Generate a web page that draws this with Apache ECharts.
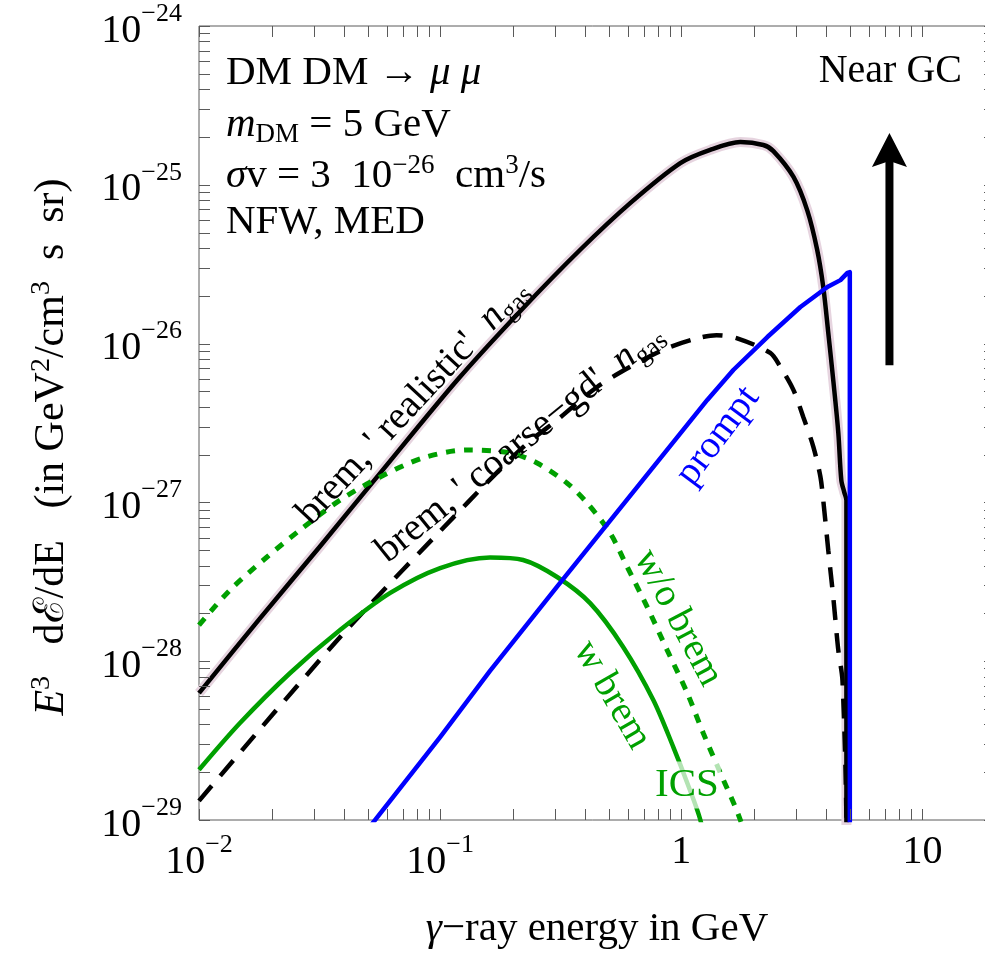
<!DOCTYPE html>
<html>
<head>
<meta charset="utf-8">
<script src="https://cdn.jsdelivr.net/npm/echarts@6/dist/echarts.min.js"></script>
<style>
  html, body { margin: 0; padding: 0; background: #fff; }
  #chart { width: 985px; height: 953px; }
</style>
</head>
<body>
<div id="chart"></div>
<script>
// Gamma-ray spectra from DM DM -> mu mu, m_DM = 5 GeV, near the Galactic Centre.
// Energies in GeV, fluxes as E^3 dE/dE in GeV^2/(cm^3 s sr).

const bremRealisticE = [0.01, 0.0179, 0.0318, 0.0564, 0.1178, 0.2148, 0.381, 0.614, 0.991, 1.318, 1.758, 2.19, 2.41, 2.92, 3.33, 3.66, 3.88, 4.07, 4.28, 4.48, 4.61, 4.74, 4.84, 4.84];
const bremRealisticV = [6.3e-29, 1.86e-28, 5.3e-28, 1.53e-27, 5.9e-27, 1.6e-26, 3.9e-26, 7.67e-26, 1.37e-25, 1.66e-25, 1.86e-25, 1.78e-25, 1.63e-25, 1.12e-25, 6.9e-26, 3.9e-26, 2.27e-26, 1.17e-26, 5.65e-27, 2.74e-27, 1.38e-27, 1.16e-27, 1.03e-27, 1e-31];

const bremCoarseE = [0.01, 0.0385, 0.1294, 0.2208, 0.3055, 0.4477, 0.656, 0.875, 1.164, 1.4, 1.706, 2.339, 2.576, 2.917, 3.206, 3.532, 3.776, 3.88, 4.07, 4.28, 4.48, 4.66, 4.84, 4.9];
const bremCoarseV = [1.32e-29, 1.42e-28, 9.9e-28, 2.23e-27, 3.3e-27, 5.33e-27, 7.55e-27, 9.37e-27, 1.08e-26, 1.13e-26, 1.08e-26, 8.73e-27, 7.13e-27, 5.11e-27, 3.45e-27, 2.23e-27, 1.45e-27, 1.03e-27, 5.0e-28, 2.43e-28, 1.17e-28, 7.6e-29, 1e-29, 1e-31];

const icsNoBremE = [0.01, 0.01346, 0.01914, 0.02624, 0.03846, 0.05636, 0.0849, 0.1294, 0.195, 0.2523, 0.3365, 0.4074, 0.507, 0.597, 0.7228, 0.875, 1.059, 1.233, 1.452, 1.758, 2.0];
const icsNoBremV = [1.69e-28, 2.81e-28, 4.53e-28, 6.7e-28, 1.035e-27, 1.445e-27, 1.905e-27, 2.14e-27, 2.05e-27, 1.77e-27, 1.32e-27, 9.9e-28, 6.41e-28, 3.92e-28, 2.19e-28, 1.17e-28, 6.3e-29, 3.53e-29, 1.98e-29, 1.0e-29, 5e-30];

const icsBremE = [0.01, 0.01479, 0.02388, 0.03846, 0.0621, 0.1, 0.161, 0.2208, 0.3055, 0.4188, 0.5741, 0.7656, 0.9268, 1.059, 1.2, 1.318];
const icsBremV = [2.07e-29, 4.08e-29, 8.43e-29, 1.57e-28, 2.69e-28, 3.86e-28, 4.5e-28, 4.34e-28, 3.39e-28, 2.32e-28, 1.23e-28, 5.7e-29, 2.88e-29, 1.71e-29, 1.0e-29, 5e-30];

const promptE = [0.05, 0.1, 0.161, 0.3055, 1.282, 1.644, 2.275, 3.119, 4.036, 4.571, 4.887, 5.0, 5.0];
const promptV = [8.7e-30, 3.33e-29, 8.7e-29, 2.95e-28, 4.42e-27, 6.82e-27, 1.1e-26, 1.7e-26, 2.27e-26, 2.51e-26, 2.79e-26, 2.82e-26, 1e-31];

// "Near GC" arrow: energy, lower and upper end
const arrowE = 7.3;
const arrowFrom = 7.3e-27;
const arrowTo = 2.12e-25;

const xRange = [0.01, 20];
const yRange = [1e-29, 1e-24];
const xTickValues = [0.01, 0.1, 1, 10];
const xTickLabels = [['10', '−2'], ['10', '−1'], ['1', ''], ['10', '']];
const yTickValues = [1e-29, 1e-28, 1e-27, 1e-26, 1e-25, 1e-24];
const yTickLabels = [['10', '−29'], ['10', '−28'], ['10', '−27'], ['10', '−26'], ['10', '−25'], ['10', '−24']];

const FONT = '"Liberation Serif", "Times New Roman", serif';
const AXIS_COLOR = '#5a5a5a';
const TICK_LEN = 11;
const GREEN = '#00a000';
const BLUE = '#0000ff';

// log-spaced tick marks (1..9 per decade) inside the range
function logTicks(lo, hi) {
  const out = [];
  for (let k = Math.floor(Math.log10(lo)); k <= Math.ceil(Math.log10(hi)); k++) {
    for (let m = 1; m <= 9; m++) {
      const v = m * Math.pow(10, k);
      if (v >= lo * 0.999999 && v <= hi * 1.000001) out.push(v);
    }
  }
  return out;
}

function pairs(xs, ys) { return xs.map((x, i) => [x, ys[i]]); }

function tickFormatter(values, labels) {
  return function (v) {
    for (let i = 0; i < values.length; i++) {
      if (Math.abs(Math.log10(v) - Math.log10(values[i])) < 1e-9) {
        const base = labels[i][0], exp = labels[i][1];
        return exp ? '{b|' + base + '}{s|' + exp + '}' : '{p|' + base + '}';
      }
    }
    return '';
  };
}

const tickRich = {
  b: { fontFamily: FONT, fontSize: 40, color: '#000', lineHeight: 40, verticalAlign: 'bottom', padding: [20, 0, 0, 0] },
  s: { fontFamily: FONT, fontSize: 26, color: '#000', lineHeight: 50, verticalAlign: 'top' },
  p: { fontFamily: FONT, fontSize: 40, color: '#000', lineHeight: 40 }
};

function font(size, italic) { return (italic ? 'italic ' : '') + size + 'px ' + FONT; }

function richSet(size, color) {
  return {
    r: { font: font(size), fill: color, lineHeight: size + 6 },
    i: { font: font(size, true), fill: color, lineHeight: size + 6 },
    sup: { font: font(Math.round(size * 0.66)), fill: color, lineHeight: Math.round(size * 0.55), verticalAlign: 'top' },
    sub: { font: font(Math.round(size * 0.66)), fill: color, lineHeight: Math.round(size * 0.5), verticalAlign: 'bottom' }
  };
}

function label(text, x, y, size, color, rotationDeg, align, extra) {
  const style = Object.assign({
    text: text, x: 0, y: 0, font: font(size), fill: color,
    align: align || 'center', verticalAlign: 'middle', rich: richSet(size, color)
  }, extra || {});
  return { type: 'text', x: x, y: y, rotation: (rotationDeg || 0) * Math.PI / 180, z: 50, style: style };
}

const chart = echarts.init(document.getElementById('chart'), null, { renderer: 'canvas' });

const lineBase = { type: 'line', showSymbol: false, symbol: 'none', animation: false, clip: true, silent: true, smooth: 0.3 };

chart.setOption({
  animation: false,
  textStyle: { fontFamily: FONT },
  grid: {
    left: 199, top: 26, width: 796, height: 794,
    show: true, borderColor: AXIS_COLOR, borderWidth: 1, backgroundColor: 'rgba(0,0,0,0)',
    containLabel: false, outerBoundsMode: 'none'
  },
  xAxis: {
    type: 'log', logBase: 10, min: xRange[0], max: xRange[1],
    axisLine: { show: false }, axisTick: { show: false }, splitLine: { show: false },
    axisLabel: {
      formatter: tickFormatter(xTickValues, xTickLabels), margin: 12, rich: tickRich,
      showMinLabel: true, showMaxLabel: false, hideOverlap: false
    },
    name: '{i|γ}{r|−ray energy in GeV}', nameLocation: 'middle', nameGap: 89,
    nameTextStyle: {
      rich: {
        i: { fontFamily: FONT, fontSize: 41, fontStyle: 'italic', color: '#000', lineHeight: 41 },
        r: { fontFamily: FONT, fontSize: 41, color: '#000', lineHeight: 41 }
      }
    }
  },
  yAxis: {
    type: 'log', logBase: 10,
    // a hair below 1e-29 so the bottom decade lands on the regular tick grid
    min: yRange[0] * 0.9999999, max: yRange[1],
    axisLine: { show: false }, axisTick: { show: false }, splitLine: { show: false },
    axisLabel: {
      formatter: tickFormatter(yTickValues, yTickLabels), margin: 17, rich: tickRich,
      showMinLabel: true, showMaxLabel: true, hideOverlap: false
    }
  },
  series: [
    // uncertainty band of the 'realistic' gas model
    Object.assign({}, lineBase, {
      name: 'band', data: pairs(bremRealisticE, bremRealisticV), z: 1,
      lineStyle: { color: '#e6d4df', width: 10, join: 'round' }
    }),
    Object.assign({}, lineBase, {
      name: "brem, 'realistic' n_gas", data: pairs(bremRealisticE, bremRealisticV), z: 3,
      lineStyle: { color: '#000', width: 4.5, join: 'round' }
    }),
    Object.assign({}, lineBase, {
      name: "brem, 'coarse-gd' n_gas", data: pairs(bremCoarseE, bremCoarseV), z: 3,
      lineStyle: { color: '#000', width: 4.5, type: [20, 13] }
    }),
    Object.assign({}, lineBase, {
      name: 'ICS w/o brem', data: pairs(icsNoBremE, icsNoBremV), z: 3,
      lineStyle: { color: GREEN, width: 5, type: [9, 9] }
    }),
    Object.assign({}, lineBase, {
      name: 'ICS w brem', data: pairs(icsBremE, icsBremV), z: 3,
      lineStyle: { color: GREEN, width: 4.5, join: 'round' }
    }),
    Object.assign({}, lineBase, {
      name: 'prompt', data: pairs(promptE, promptV), z: 4, smooth: false,
      lineStyle: { color: BLUE, width: 4.5, join: 'round' }
    }),
    // tick marks on bottom and top edges
    {
      type: 'custom', silent: true, clip: false, z: 6,
      data: logTicks(xRange[0], xRange[1]).map(v => [v, yRange[0]]),
      encode: { x: 0, y: 1 },
      renderItem: function (params, api) {
        const v = api.value(0);
        const b = api.coord([v, yRange[0]]);
        const t = api.coord([v, yRange[1]]);
        const x = Math.round(b[0]) + 0.5;
        const st = { stroke: AXIS_COLOR, lineWidth: 1 };
        return { type: 'group', children: [
          { type: 'line', shape: { x1: x, y1: b[1], x2: x, y2: b[1] - TICK_LEN }, style: st },
          { type: 'line', shape: { x1: x, y1: t[1], x2: x, y2: t[1] + TICK_LEN }, style: st }
        ] };
      }
    },
    // tick marks on left and right edges
    {
      type: 'custom', silent: true, clip: false, z: 6,
      data: logTicks(yRange[0], yRange[1]).map(v => [xRange[0], v]),
      encode: { x: 0, y: 1 },
      renderItem: function (params, api) {
        const v = api.value(1);
        const l = api.coord([xRange[0], v]);
        const r = api.coord([xRange[1], v]);
        const y = Math.round(l[1]) + 0.5;
        const st = { stroke: AXIS_COLOR, lineWidth: 1 };
        return { type: 'group', children: [
          { type: 'line', shape: { x1: l[0], y1: y, x2: l[0] + TICK_LEN, y2: y }, style: st },
          { type: 'line', shape: { x1: r[0], y1: y, x2: r[0] - TICK_LEN, y2: y }, style: st }
        ] };
      }
    },
    // arrow pointing towards the Galactic Centre
    {
      type: 'custom', silent: true, clip: false, z: 7,
      data: [[arrowE, arrowFrom, arrowTo]],
      encode: { x: 0, y: [1, 2] },
      renderItem: function (params, api) {
        const a = api.coord([api.value(0), api.value(1)]);
        const b = api.coord([api.value(0), api.value(2)]);
        const headL = 34, headW = 17.5, shaftW = 4, notch = 6;
        const top = b[1] + headL - notch;
        return { type: 'group', children: [
          { type: 'rect', shape: { x: a[0] - shaftW, y: top, width: 2 * shaftW, height: a[1] - top }, style: { fill: '#000' } },
          { type: 'polygon', shape: { points: [[b[0], b[1]], [b[0] + headW, b[1] + headL], [b[0], top], [b[0] - headW, b[1] + headL]] }, style: { fill: '#000' } }
        ] };
      }
    }
  ],
  graphic: [
    // vertical axis title
    label('{i|E}{sup|3}{r|   dℰ/dE   (in GeV}{sup|2}{r|/cm}{sup|3}{r|  s  sr)}', 52, 447, 42, '#000', 90),
    label('{r|DM DM → }{i|μ}{r| }{i|μ}', 226, 73, 41, '#000', 0, 'left'),
    label('{i|m}{sub|DM}{r| = 5 GeV}', 226, 125, 41, '#000', 0, 'left'),
    label('{i|σ}{r|v = 3  10}{sup|−26}{r|  cm}{sup|3}{r|/s}', 226, 176, 41, '#000', 0, 'left'),
    label('{r|NFW, MED}', 226, 222, 41, '#000', 0, 'left'),
    label('{r|Near GC}', 962, 71, 40, '#000', 0, 'right'),
    label("{r|brem, ' realistic'  }{i|n}{sub|gas}", 413, 402, 39, '#000', 47),
    label("{r|brem, ' coarse−gd'  }{i|n}{sub|gas}", 520, 443, 39, '#000', 39),
    label('{r|prompt}', 718, 436, 39, BLUE, 53),
    label('{r|w/o brem}', 678, 618, 39, GREEN, -62),
    label('{r|w brem}', 612, 695, 39, GREEN, -60),
    label('{r|ICS}', 687, 785, 41, GREEN, 0, 'center', { backgroundColor: 'rgba(255,255,255,0.7)', padding: [0, 2, 0, 2] })
  ]
});
</script>
</body>
</html>
